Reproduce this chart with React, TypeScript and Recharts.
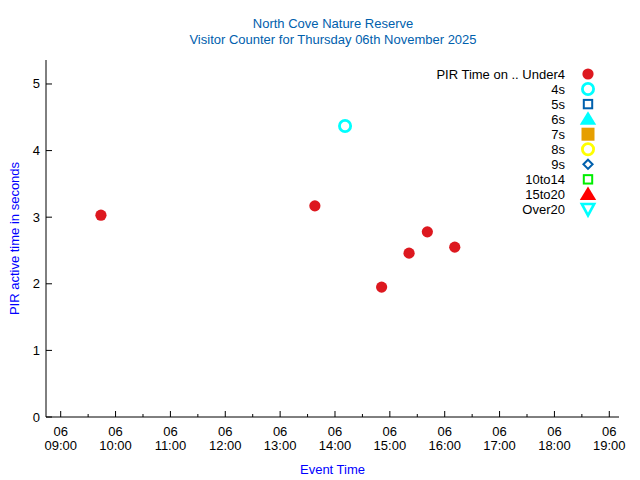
import React from 'react';
import { ScatterChart, Scatter, XAxis, YAxis } from 'recharts';

// event times (HH:MM on 06 Nov) and PIR active seconds, one array per bucket
const UNDER4_TIMES = ['09:44', '13:38', '14:51', '15:21', '15:41', '16:11'];
const UNDER4_VALUES = [3.03, 3.17, 1.95, 2.46, 2.78, 2.55];
const S4_TIMES = ['14:11'];
const S4_VALUES = [4.37];

const HOUR_TICKS = [9, 10, 11, 12, 13, 14, 15, 16, 17, 18, 19];
const HOUR_LABELS = ['09:00', '10:00', '11:00', '12:00', '13:00', '14:00', '15:00', '16:00', '17:00', '18:00', '19:00'];
const DAY_LABEL = '06';
const Y_TICKS = [0, 1, 2, 3, 4, 5];

const BUCKETS = ['Under4', '4s', '5s', '6s', '7s', '8s', '9s', '10to14', '15to20', 'Over20'];

const FONT = '"Liberation Sans", Arial, sans-serif';
const RED = '#dd181f';

type Kind = 'fcircle' | 'ocircle' | 'osquare' | 'ftri' | 'fsquare' | 'odiamond' | 'dtri';

const STYLES: Record<string, { kind: Kind; color: string }> = {
    Under4: { kind: 'fcircle', color: RED },
    '4s': { kind: 'ocircle', color: '#00ffff' },
    '5s': { kind: 'osquare', color: '#0060ad' },
    '6s': { kind: 'ftri', color: '#00ffff' },
    '7s': { kind: 'fsquare', color: '#e69f00' },
    '8s': { kind: 'ocircle', color: '#ffff00' },
    '9s': { kind: 'odiamond', color: '#0060ad' },
    '10to14': { kind: 'osquare', color: '#00ee00' },
    '15to20': { kind: 'ftri', color: '#ff0000' },
    Over20: { kind: 'dtri', color: '#00ffff' },
};

const toHours = (t: string) => {
    const [h, m] = t.split(':').map(Number);
    return h + m / 60;
};

const makeSeries = (times: string[], values: number[]) =>
    times.map((t, i) => ({ t: toHours(t), v: values[i] }));

const SERIES: Record<string, { t: number; v: number }[]> = {
    Under4: makeSeries(UNDER4_TIMES, UNDER4_VALUES),
    '4s': makeSeries(S4_TIMES, S4_VALUES),
};

const Marker = ({ kind, color, cx, cy }: { kind: Kind; color: string; cx: number; cy: number }) => {
    switch (kind) {
        case 'fcircle':
            return <circle cx={cx} cy={cy} r={5.6} fill={color} />;
        case 'ocircle':
            return <circle cx={cx} cy={cy} r={5.6} fill="none" stroke={color} strokeWidth={2.8} />;
        case 'osquare':
            return <rect x={cx - 4.2} y={cy - 4.2} width={8.4} height={8.4} fill="none" stroke={color} strokeWidth={2} />;
        case 'fsquare':
            return <rect x={cx - 6.5} y={cy - 6.5} width={13} height={13} fill={color} />;
        case 'ftri':
            return <polygon points={`${cx},${cy - 8} ${cx + 8.2},${cy + 5.5} ${cx - 8.2},${cy + 5.5}`} fill={color} />;
        case 'odiamond':
            return <polygon points={`${cx},${cy - 4.6} ${cx + 4.6},${cy} ${cx},${cy + 4.6} ${cx - 4.6},${cy}`} fill="none" stroke={color} strokeWidth={2} />;
        case 'dtri':
            return <polygon points={`${cx - 6.2},${cy - 5.5} ${cx + 6.2},${cy - 5.5} ${cx},${cy + 6}`} fill="none" stroke={color} strokeWidth={2.6} />;
    }
    return null;
};

const isMajor = (v: number) => Number.isInteger(v);

const BottomTick = (props: any) => {
    const { x, y, payload } = props;
    const idx = HOUR_TICKS.indexOf(payload.value);
    return (
        <g>
            <line x1={x} y1={y} x2={x} y2={y - (isMajor(payload.value) ? 6 : 3)} stroke="#000" />
            {idx >= 0 && (
                <text x={x} y={y} textAnchor="middle" fontSize={13} fontFamily={FONT} fill="#000">
                    <tspan x={x} dy={19}>{DAY_LABEL}</tspan>
                    <tspan x={x} dy={14}>{HOUR_LABELS[idx]}</tspan>
                </text>
            )}
        </g>
    );
};

const TopTick = (props: any) => {
    const { x, y, payload } = props;
    return <line x1={x} y1={y} x2={x} y2={y + (isMajor(payload.value) ? 6 : 3)} stroke="#000" />;
};

const LeftTick = (props: any) => {
    const { x, y, payload } = props;
    return (
        <g>
            <line x1={x} y1={y} x2={x + 6} y2={y} stroke="#000" />
            <text x={x - 6} y={y} dy={4.5} textAnchor="end" fontSize={13} fontFamily={FONT} fill="#000">
                {payload.value}
            </text>
        </g>
    );
};

const RightTick = (props: any) => {
    const { x, y } = props;
    return <line x1={x} y1={y} x2={x - 6} y2={y} stroke="#000" />;
};

const X_DOMAIN = [8.732, 19.177];
const Y_DOMAIN = [0, 5.36];
const X_TICKS = HOUR_TICKS.flatMap((h, i) => (i < HOUR_TICKS.length - 1 ? [h, h + 0.5] : [h]));

export default function App() {
    return (
        <div style={{ position: 'absolute', left: 0, top: 0, width: 640, height: 480, background: '#fff' }}>
            <ScatterChart width={640} height={480} margin={{ top: 60, right: 21, bottom: 23, left: 6 }}>
                <XAxis
                    type="number"
                    dataKey="t"
                    domain={X_DOMAIN}
                    ticks={X_TICKS}
                    allowDataOverflow
                    height={40}
                    tickSize={0}
                    tickMargin={0}
                    tickLine={false}
                    axisLine={{ stroke: '#000' }}
                    tick={<BottomTick />}
                    interval={0}
                    label={{ value: 'Event Time', position: 'bottom', offset: 8, fill: '#0000ff', fontSize: 13, fontFamily: FONT }}
                />
                <XAxis
                    xAxisId="top"
                    orientation="top"
                    type="number"
                    dataKey="t"
                    domain={X_DOMAIN}
                    ticks={X_TICKS}
                    allowDataOverflow
                    height={0}
                    tickSize={0}
                    tickMargin={0}
                    tickLine={false}
                    axisLine={{ stroke: '#000' }}
                    tick={<TopTick />}
                    interval={0}
                />
                <YAxis
                    type="number"
                    dataKey="v"
                    domain={Y_DOMAIN}
                    ticks={Y_TICKS}
                    allowDataOverflow
                    width={40}
                    tickSize={0}
                    tickMargin={0}
                    tickLine={false}
                    axisLine={{ stroke: '#000' }}
                    tick={<LeftTick />}
                    interval={0}
                    label={{
                        value: 'PIR active time in seconds',
                        angle: -90,
                        position: 'insideLeft',
                        offset: 8,
                        fill: '#0000ff',
                        fontSize: 13,
                        fontFamily: FONT,
                        style: { textAnchor: 'middle' },
                    }}
                />
                <YAxis
                    yAxisId="right"
                    orientation="right"
                    type="number"
                    dataKey="v"
                    domain={Y_DOMAIN}
                    ticks={Y_TICKS}
                    allowDataOverflow
                    width={0}
                    tickSize={0}
                    tickMargin={0}
                    tickLine={false}
                    axisLine={{ stroke: '#000' }}
                    tick={<RightTick />}
                    interval={0}
                />
                {BUCKETS.map((b) => (
                    <Scatter
                        key={b}
                        name={b}
                        data={SERIES[b] ?? []}
                        isAnimationActive={false}
                        shape={(p: any) => <Marker kind={STYLES[b].kind} color={STYLES[b].color} cx={p.cx} cy={p.cy} />}
                    />
                ))}
            </ScatterChart>
            <svg width={640} height={480} style={{ position: 'absolute', left: 0, top: 0, pointerEvents: 'none' }}>
                <text x={333} y={28} textAnchor="middle" fontSize={13} fontFamily={FONT} fill="#0060ad">
                    North Cove Nature Reserve
                </text>
                <text x={333} y={43.5} textAnchor="middle" fontSize={13} fontFamily={FONT} fill="#0060ad">
                    Visitor Counter for Thursday 06th November 2025
                </text>
                {BUCKETS.map((b, i) => {
                    const cy = 74 + i * 15.05;
                    return (
                        <g key={b}>
                            <text x={565} y={cy + 4.5} textAnchor="end" fontSize={13} fontFamily={FONT} fill="#000">
                                {i === 0 ? `PIR Time on .. ${b}` : b}
                            </text>
                            <Marker kind={STYLES[b].kind} color={STYLES[b].color} cx={588} cy={cy} />
                        </g>
                    );
                })}
            </svg>
        </div>
    );
}
